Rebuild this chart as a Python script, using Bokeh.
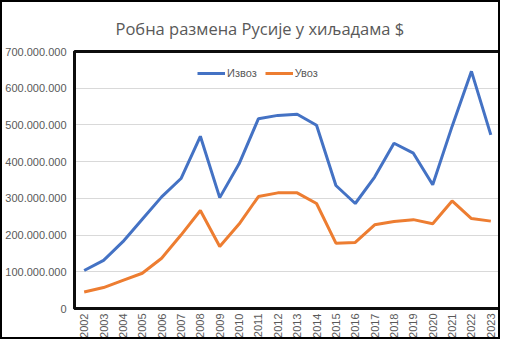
import math
from bokeh.plotting import figure
from bokeh.models import (FactorRange, FixedTicker, Legend, LegendItem, Title,
                          ColumnDataSource)
from bokeh.embed import file_html
from bokeh.resources import INLINE

years = [str(y) for y in range(2002, 2024)]
export = [103500000, 131000000, 182000000, 243000000, 304000000, 354000000, 469000000,
          302000000, 394000000, 517000000, 526000000, 529000000, 499000000, 335000000,
          286000000, 358000000, 450000000, 423000000, 337000000, 496000000, 646000000,
          473000000]
imports = [45000000, 57000000, 76500000, 96000000, 137000000, 200000000, 267000000,
           169000000, 230000000, 305000000, 315000000, 315000000, 286000000, 178000000,
           180000000, 228000000, 237000000, 242000000, 231000000, 293000000, 245000000,
           238000000]
y_ticks = [0, 100000000, 200000000, 300000000, 400000000, 500000000, 600000000, 700000000]
y_tick_labels = ["0", "100.000.000", "200.000.000", "300.000.000", "400.000.000",
                 "500.000.000", "600.000.000", "700.000.000"]
series_names = ["Извоз", "Увоз"]
title_text = "Робна размена Русије у хиљадама $"

FRAME_COLOR = "#0d0d0d"

src = ColumnDataSource(dict(year=years, exp=export, imp=imports))

p = figure(width=500, height=339, x_range=FactorRange(factors=years), y_range=(0, 700000000),
           output_backend="svg", toolbar_location=None,
           min_border_left=72, min_border_right=2, min_border_top=49, min_border_bottom=33,
           styles={"border": "2px solid black"})
p.title = None

t = Title(text=title_text, text_font="Open Sans", text_font_size="16.5px",
          text_color="#595959", text_font_style="normal", align="left", offset=41, standoff=23)
p.add_layout(t, "above")

r1 = p.line("year", "exp", source=src, line_color="#4472C4", line_width=3)
r2 = p.line("year", "imp", source=src, line_color="#ED7D31", line_width=3)

legend = Legend(items=[LegendItem(label=series_names[0], renderers=[r1]),
                       LegendItem(label=series_names[1], renderers=[r2])],
                orientation="horizontal", location=(123, 229),
                glyph_width=28, glyph_height=12, label_height=12, label_standoff=2,
                spacing=8, padding=0, margin=0, border_line_color=None,
                background_fill_alpha=0, label_text_font="Liberation Sans",
                label_text_font_size="11px", label_text_color="#595959")
p.add_layout(legend, "center")

p.outline_line_color = FRAME_COLOR
p.outline_line_width = 3

bx = p.below[0]
ly = p.left[0]
ly.ticker = FixedTicker(ticks=y_ticks)
ly.major_label_overrides = {v: s for v, s in zip(y_ticks, y_tick_labels)}
for ax in (bx, ly):
    ax.axis_line_width = 3
    ax.axis_line_color = FRAME_COLOR
    ax.major_tick_line_color = None
    ax.minor_tick_line_color = None
    ax.major_tick_out = 0
    ax.major_tick_in = 0
    ax.major_label_text_font = "Liberation Sans"
    ax.major_label_text_font_size = "11px"
    ax.major_label_text_color = "#595959"
ly.major_label_standoff = 8
bx.major_label_standoff = 5
bx.major_label_orientation = math.pi / 2

p.xgrid.grid_line_color = None
p.ygrid.grid_line_color = "#d9d9d9"
p.ygrid.grid_line_width = 1
p.ygrid.ticker = FixedTicker(ticks=y_ticks)

open("out.html", "w").write(file_html(p, INLINE))
